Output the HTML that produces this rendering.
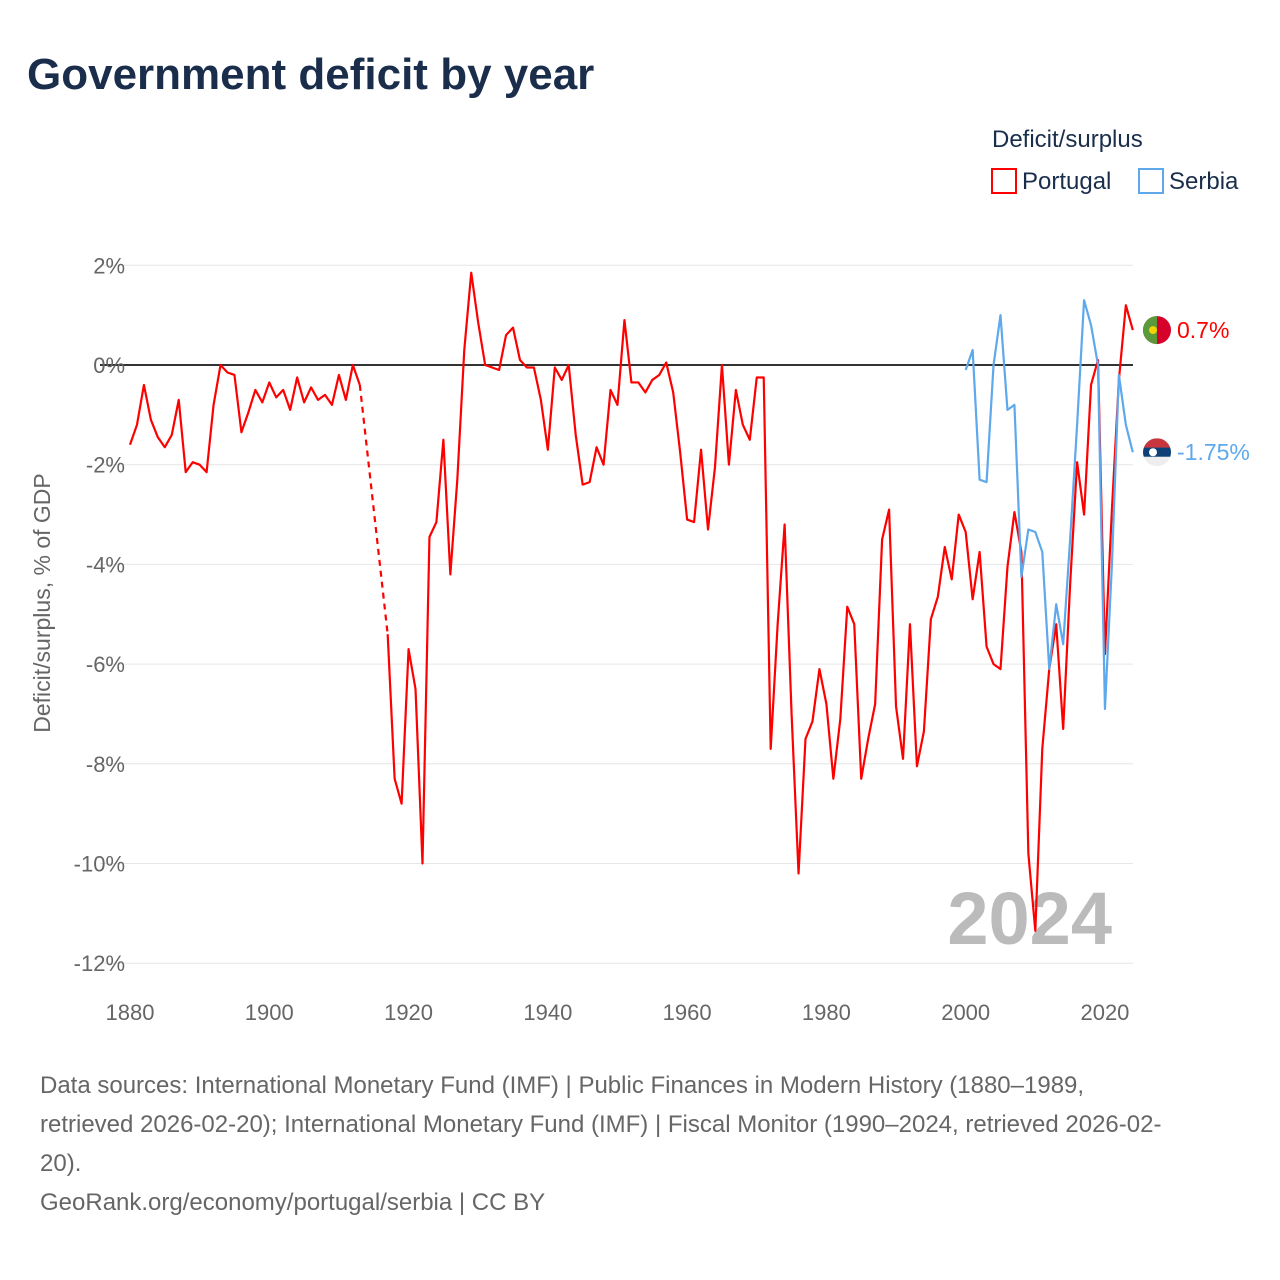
<!DOCTYPE html>
<html><head><meta charset="utf-8">
<style>
body{margin:0;background:#fff;width:1280px;height:1280px;overflow:hidden;font-family:"Liberation Sans",sans-serif}
.t{position:absolute;left:27px;top:50px;font-size:44px;font-weight:bold;color:#1a2e4c;margin:0}
.foot{position:absolute;left:40px;top:1066px;width:1140px;font-size:24px;line-height:39px;color:#666}
</style></head><body>
<h1 class="t">Government deficit by year</h1>
<svg id="c" width="1280" height="1060" style="position:absolute;left:0;top:0"></svg>
<div class="foot">Data sources: International Monetary Fund (IMF) | Public Finances in Modern History (1880–1989, retrieved 2026-02-20); International Monetary Fund (IMF) | Fiscal Monitor (1990–2024, retrieved 2026-02-20).<br>GeoRank.org/economy/portugal/serbia | CC BY</div>
<script>
const ptYears=[1880,1881,1882,1883,1884,1885,1886,1887,1888,1889,1890,1891,1892,1893,1894,1895,1896,1897,1898,1899,1900,1901,1902,1903,1904,1905,1906,1907,1908,1909,1910,1911,1912,1913,1917,1918,1919,1920,1921,1922,1923,1924,1925,1926,1927,1928,1929,1930,1931,1932,1933,1934,1935,1936,1937,1938,1939,1940,1941,1942,1943,1944,1945,1946,1947,1948,1949,1950,1951,1952,1953,1954,1955,1956,1957,1958,1959,1960,1961,1962,1963,1964,1965,1966,1967,1968,1969,1970,1971,1972,1973,1974,1975,1976,1977,1978,1979,1980,1981,1982,1983,1984,1985,1986,1987,1988,1989,1990,1991,1992,1993,1994,1995,1996,1997,1998,1999,2000,2001,2002,2003,2004,2005,2006,2007,2008,2009,2010,2011,2012,2013,2014,2015,2016,2017,2018,2019,2020,2021,2022,2023,2024];
const ptValues=[-1.6,-1.2,-0.4,-1.1,-1.45,-1.65,-1.4,-0.7,-2.15,-1.95,-2.0,-2.15,-0.8,0.0,-0.15,-0.2,-1.35,-0.95,-0.5,-0.75,-0.35,-0.65,-0.5,-0.9,-0.25,-0.75,-0.45,-0.7,-0.6,-0.8,-0.2,-0.7,0.0,-0.4,-5.4,-8.3,-8.8,-5.7,-6.5,-10.0,-3.45,-3.15,-1.5,-4.2,-2.3,0.3,1.85,0.85,0.0,-0.05,-0.1,0.6,0.75,0.1,-0.05,-0.05,-0.7,-1.7,-0.05,-0.3,0.0,-1.4,-2.4,-2.35,-1.65,-2.0,-0.5,-0.8,0.9,-0.35,-0.35,-0.55,-0.3,-0.2,0.05,-0.55,-1.75,-3.1,-3.15,-1.7,-3.3,-2.05,0.0,-2.0,-0.5,-1.2,-1.5,-0.25,-0.25,-7.7,-5.2,-3.2,-7.0,-10.2,-7.5,-7.15,-6.1,-6.8,-8.3,-7.1,-4.85,-5.2,-8.3,-7.5,-6.8,-3.5,-2.9,-6.85,-7.9,-5.2,-8.05,-7.35,-5.1,-4.65,-3.65,-4.3,-3.0,-3.35,-4.7,-3.75,-5.65,-6.0,-6.1,-4.05,-2.95,-3.75,-9.8,-11.35,-7.7,-6.1,-5.2,-7.3,-4.4,-1.95,-3.0,-0.4,0.1,-5.8,-2.9,-0.3,1.2,0.7];
const rsYears=[2000,2001,2002,2003,2004,2005,2006,2007,2008,2009,2010,2011,2012,2013,2014,2015,2016,2017,2018,2019,2020,2021,2022,2023,2024];
const rsValues=[-0.1,0.3,-2.3,-2.35,0.0,1.0,-0.9,-0.8,-4.25,-3.3,-3.35,-3.75,-6.1,-4.8,-5.6,-3.5,-1.2,1.3,0.8,0.0,-6.9,-4.0,-0.2,-1.2,-1.75];
const yTicks=[2,0,-2,-4,-6,-8,-10,-12];
const xTicks=[1880,1900,1920,1940,1960,1980,2000,2020];
const X=y=>130+(y-1880)*6.964, Y=v=>365-v*49.85;
const s=document.getElementById('c'),NS='http://www.w3.org/2000/svg';
function mk(t,a,p){const e=document.createElementNS(NS,t);for(const k in a)e.setAttribute(k,a[k]);(p||s).appendChild(e);return e;}
yTicks.forEach(v=>{
 const g=mk('line',{x1:100,x2:1133,y1:Y(v),y2:Y(v),stroke:v===0?'#333':'#e6e6e6','stroke-width':v===0?2:1});
 
 
 const t=mk('text',{x:125,y:Y(v)+8,'text-anchor':'end','font-size':22,fill:'#666'});t.textContent=v+'%';
 
 
});
xTicks.forEach(v=>{const t=mk('text',{x:X(v),y:1020,'text-anchor':'middle','font-size':22,fill:'#666'});t.textContent=v;
 
 });
const yt=mk('text',{transform:'translate(50,603) rotate(-90)','text-anchor':'middle','font-size':23,fill:'#666'});yt.textContent='Deficit/surplus, % of GDP';


const yr=mk('text',{x:1112,y:944,'text-anchor':'end','font-size':74,'font-weight':'bold',fill:'#bbb'});yr.textContent='2024';


function line(ys,vs,col,name){
 let segs=[],cur=[];
 for(let i=0;i<ys.length;i++){
  if(i>0&&ys[i]-ys[i-1]>1){segs.push({p:cur,d:false});segs.push({p:[cur[cur.length-1],[X(ys[i]),Y(vs[i])]],d:true});cur=[];}
  cur.push([X(ys[i]),Y(vs[i])]);
 }
 segs.push({p:cur,d:false});
 segs.forEach(sg=>{const e=mk('polyline',{points:sg.p.map(q=>q.join(',')).join(' '),fill:'none',stroke:col,'stroke-width':2.2,'stroke-linejoin':'round','stroke-dasharray':sg.d?'6,5':'none'});
  
  });
}
line(ptYears,ptValues,'#ff0000','portugal-line');
line(rsYears,rsValues,'#5ea8ec','serbia-line');
const pv=ptValues[ptValues.length-1],rv=rsValues[rsValues.length-1];
const pf=mk('g',{});
mk('circle',{cx:1157,cy:Y(pv),r:14,fill:'#d6002a'},pf);
mk('path',{d:`M1157 ${Y(pv)-14} A14 14 0 0 0 1157 ${Y(pv)+14} Z`,fill:'#5b9a3a'},pf);
mk('circle',{cx:1153,cy:Y(pv),r:4,fill:'#f2d200'},pf);
const sf=mk('g',{});
const ry=Y(rv);
mk('clipPath',{id:'cp'},sf);mk('circle',{cx:1157,cy:ry,r:14},document.getElementById('cp'));
mk('rect',{x:1143,y:ry-14,width:28,height:9.3,fill:'#c6363c','clip-path':'url(#cp)'},sf);
mk('rect',{x:1143,y:ry-4.7,width:28,height:9.3,fill:'#0c4076','clip-path':'url(#cp)'},sf);
mk('rect',{x:1143,y:ry+4.6,width:28,height:9.4,fill:'#eee','clip-path':'url(#cp)'},sf);
mk('circle',{cx:1153,cy:ry,r:4,fill:'#fff'},sf);
const pl=mk('text',{x:1177,y:Y(pv)+8,'font-size':23,fill:'#ff0000'});pl.textContent=pv+'%';

const rl=mk('text',{x:1177,y:ry+8,'font-size':23,fill:'#5ea8ec'});rl.textContent=rv+'%';

const lt=mk('text',{x:992,y:147,'font-size':24,fill:'#1a2e4c'});lt.textContent='Deficit/surplus';

const l1=mk('g',{});
mk('rect',{x:992,y:169,width:24,height:24,fill:'none',stroke:'#ff0000','stroke-width':2},l1);
const a=mk('text',{x:1022,y:189,'font-size':24,fill:'#1a2e4c'},l1);a.textContent='Portugal';
const l2=mk('g',{});
mk('rect',{x:1139,y:169,width:24,height:24,fill:'none',stroke:'#5ea8ec','stroke-width':2},l2);
const b=mk('text',{x:1169,y:189,'font-size':24,fill:'#1a2e4c'},l2);b.textContent='Serbia';
</script>
</body></html>
